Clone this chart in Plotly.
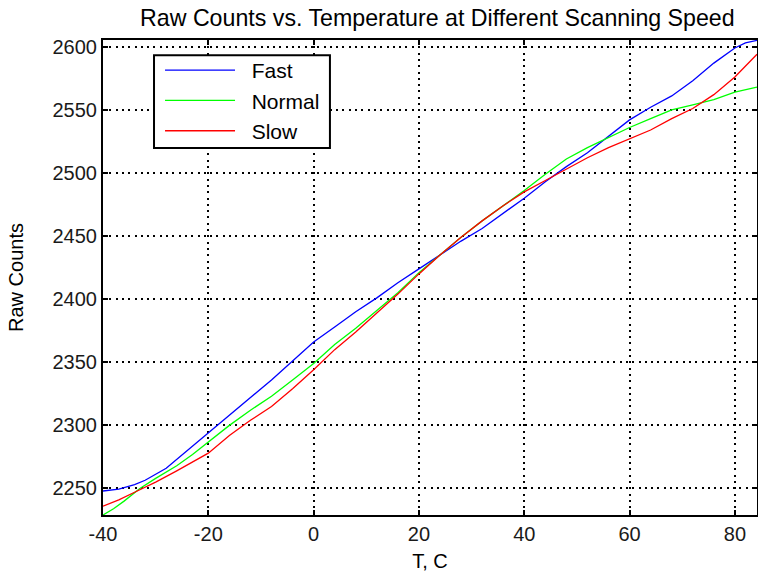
import plotly.graph_objects as go

# temperatures (C) and raw counts
fast_t = [-40, -37, -34, -32, -28, -24, -20, -16, -12, -8, -4, 0, 4, 8, 12, 16, 20,
          24, 28, 32, 36, 40, 44, 48, 52, 56, 60, 64, 68, 72, 76, 80, 82, 84.2]
fast_counts = [2248, 2249.5, 2253, 2256.5, 2266, 2280, 2294, 2307.5, 2321.5, 2336, 2351,
               2366, 2378, 2390, 2401, 2413, 2424, 2435, 2446, 2456, 2468, 2480, 2493,
               2505, 2516, 2529, 2542, 2552, 2561, 2573, 2587, 2599, 2603, 2605]

normal_t = [-40, -38, -36, -33, -30, -26, -23, -20, -16, -12, -8, -4, 0, 4, 8, 12, 16, 20,
            24, 28, 32, 36, 40, 44, 48, 52, 56, 60, 64, 68, 72, 76, 80, 84.2]
normal_counts = [2229, 2234, 2240, 2250, 2258, 2268, 2277, 2287, 2300, 2312, 2323, 2336,
                 2349, 2364, 2377, 2391, 2405, 2421, 2435, 2449, 2462, 2474, 2486, 2499,
                 2511, 2520, 2528, 2536, 2543, 2550, 2554, 2558, 2564, 2568]

slow_t = [-40, -37, -34, -30, -26, -23, -20, -16, -12, -8, -4, 0, 4, 8, 12, 16, 20,
          24, 28, 32, 36, 40, 44, 48, 52, 56, 60, 64, 68, 72, 76, 80, 84.2]
slow_counts = [2236, 2241, 2247, 2255, 2264, 2271, 2278, 2292, 2304, 2315, 2329, 2344,
               2360, 2374, 2389, 2404, 2420, 2435, 2449, 2462, 2474, 2485, 2494, 2503,
               2512, 2520, 2527, 2534, 2543, 2551, 2562, 2576, 2594]

x_ticks = [-40, -20, 0, 20, 40, 60, 80]
x_labels = ["-40", "-20", "0", "20", "40", "60", "80"]
y_ticks = [2250, 2300, 2350, 2400, 2450, 2500, 2550, 2600]

FONT = "Liberation Sans, Arial, sans-serif"
PAD = "\u00a0\u00a0"  # gap between legend line and label

fig = go.Figure()
fig.add_trace(go.Scatter(x=fast_t, y=fast_counts, mode="lines", name=PAD + "Fast",
                         line=dict(color="rgb(0,0,255)", width=1.3)))
fig.add_trace(go.Scatter(x=normal_t, y=normal_counts, mode="lines", name=PAD + "Normal",
                         line=dict(color="rgb(0,255,0)", width=1.3)))
fig.add_trace(go.Scatter(x=slow_t, y=slow_counts, mode="lines", name=PAD + "Slow",
                         line=dict(color="rgb(255,0,0)", width=1.3)))

axis_common = dict(
    automargin=False,
    showline=True, linecolor="black", linewidth=2, mirror="ticks",
    ticks="inside", ticklen=5, tickcolor="black", tickwidth=1.5,
    showgrid=True, gridcolor="black", gridwidth=1.5, griddash="2px,4.3px",
    zeroline=False, tickfont=dict(size=20, color="#1a1a1a", family=FONT),
)

fig.update_xaxes(range=[-40, 84.2], tickvals=x_ticks, ticktext=x_labels,
                 title=dict(text="T, C", font=dict(size=20, family=FONT), standoff=10),
                 **axis_common)
fig.update_yaxes(range=[2229, 2605.3], tickvals=y_ticks,
                 title=dict(text="Raw Counts", font=dict(size=20, family=FONT), standoff=24),
                 **axis_common)

# legend frame
fig.add_shape(type="rect", xref="paper", yref="paper", x0=0.078, x1=0.347, y0=0.7726, y1=0.968,
              line=dict(color="black", width=2), fillcolor="white", layer="above")

fig.update_layout(
    width=758, height=573,
    margin=dict(l=103, r=1, t=40, b=58),
    plot_bgcolor="white", paper_bgcolor="white",
    font=dict(family=FONT, color="black"),
    title=dict(text="Raw Counts vs. Temperature at Different Scanning Speed",
               font=dict(size=23.2, family=FONT), x=0.577, xanchor="center", y=0.969, yanchor="middle"),
    legend=dict(x=0.0872, y=0.979, xanchor="left", yanchor="top",
                bgcolor="rgba(0,0,0,0)", borderwidth=0,
                font=dict(size=21, family=FONT), itemwidth=70),
)

fig.write_html("out.html", config={"displayModeBar": False},
               post_script="document.body.style.margin='0';")
